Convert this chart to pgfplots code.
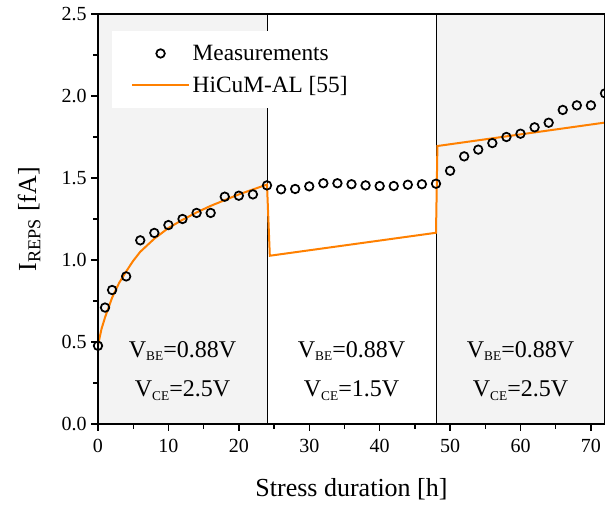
\documentclass[border=0pt]{standalone}
\usepackage{fontspec}
\setmainfont{Liberation Serif}
\usepackage{pgfplots}
\pgfplotsset{compat=1.18}
\definecolor{bggray}{RGB}{243,243,243}
\definecolor{orng}{RGB}{255,128,0}
\pgfplotsset{
  measlegend/.style={legend image code/.code={\path (0cm,0cm) (1.5cm,0cm); \draw[##1] plot coordinates {(0.75cm,0cm)};}},
  linelegend/.style={legend image code/.code={\draw[##1] (0cm,0cm) -- (1.5cm,0cm);}},
}
\newcommand{\sub}[1]{{\fontsize{10}{10}\selectfont\raisebox{-0.6ex}{#1}}}
\begin{document}
\begin{tikzpicture}
\begin{axis}[
  scale only axis,
  width=380.25pt, height=307.5pt,
  xmin=0, xmax=72, ymin=0, ymax=2.5,
  xtick={0,10,...,70}, minor xtick={5,15,...,75},
  ytick={0,0.5,...,2.5}, minor ytick={0.25,0.75,...,2.25},
  tick align=outside,
  xtick pos=left, ytick pos=left,
  major tick length=5pt, minor tick length=3.5pt,
  every tick/.style={black, line width=1pt},
  axis line style={line width=1.3pt},
  axis on top,
  clip=false,
  /pgf/number format/assume math mode=true,
  yticklabel style={/pgf/number format/fixed,/pgf/number format/precision=1,/pgf/number format/fixed zerofill},
  ticklabel style={font=\fontsize{15}{15}\selectfont},
  xticklabel style={yshift=-3pt},
  xlabel={Stress duration [h]},
  ylabel={I\textsubscript{REPS} [fA]},
  label style={font=\fontsize{19.5}{19.5}\selectfont},
  xlabel style={yshift=-12pt},
  ylabel style={yshift=9pt},
  legend style={at={(rel axis cs:0.028,0.958)}, anchor=north west, draw=none, fill=white,
    font=\fontsize{17.5}{17.5}\selectfont, inner xsep=14pt, inner ysep=8pt, row sep=6.5pt},
  legend cell align=left,
]
\fill[bggray] (axis cs:0,0) rectangle (axis cs:24,2.5);
\fill[bggray] (axis cs:48,0) rectangle (axis cs:72,2.5);
\draw[black, line width=0.7pt] (axis cs:24,0) -- (axis cs:24,2.5);
\draw[black, line width=0.7pt] (axis cs:48,0) -- (axis cs:48,2.5);

\addplot[only marks, mark=o, mark size=3.2pt, mark options={line width=1.3pt, black}, measlegend]
coordinates {
(0,0.477) (1,0.71) (2,0.817) (4,0.90) (6,1.12) (8,1.165) (10,1.213) (12,1.25)
(14,1.287) (16,1.287) (18,1.386) (20,1.392) (22,1.40) (24,1.455)
(26,1.431) (28,1.433) (30,1.449) (32,1.468) (34,1.468) (36,1.462) (38,1.455)
(40,1.451) (42,1.451) (44,1.459) (46,1.462) (48,1.465)
(50,1.544) (52,1.632) (54,1.673) (56,1.713) (58,1.75) (60,1.77) (62,1.809)
(64,1.837) (66,1.915) (68,1.943) (70,1.943) (72,2.016)
};
\addlegendentry{Measurements}

\addplot[orng, line width=1.5pt, linelegend]
coordinates {
(0,0.48) (0.5,0.58) (1,0.65) (2,0.77) (3,0.86) (4,0.93) (5,0.995) (6,1.05)
(8,1.13) (10,1.195) (12,1.245) (14,1.29) (16,1.33) (18,1.365) (20,1.40)
(22,1.43) (24,1.46)
(24.4,1.026) (48,1.166)
(48.2,1.695) (72,1.838)
};
\addlegendentry{HiCuM-AL [55]}

\node[anchor=base, font=\fontsize{18}{18}\selectfont] at (axis cs:12,0.408) {V\sub{BE}=0.88V};
\node[anchor=base, font=\fontsize{18}{18}\selectfont] at (axis cs:12,0.165) {V\sub{CE}=2.5V};
\node[anchor=base, font=\fontsize{18}{18}\selectfont] at (axis cs:36,0.408) {V\sub{BE}=0.88V};
\node[anchor=base, font=\fontsize{18}{18}\selectfont] at (axis cs:36,0.165) {V\sub{CE}=1.5V};
\node[anchor=base, font=\fontsize{18}{18}\selectfont] at (axis cs:60,0.408) {V\sub{BE}=0.88V};
\node[anchor=base, font=\fontsize{18}{18}\selectfont] at (axis cs:60,0.165) {V\sub{CE}=2.5V};

\coordinate (sw) at (rel axis cs:0,0);
\coordinate (ne) at (rel axis cs:1,1);
\end{axis}
\pgfresetboundingbox
\path[use as bounding box] ([xshift=-73.5pt,yshift=-61.5pt]sw) rectangle ([yshift=10.5pt]ne);
\end{tikzpicture}
\end{document}
